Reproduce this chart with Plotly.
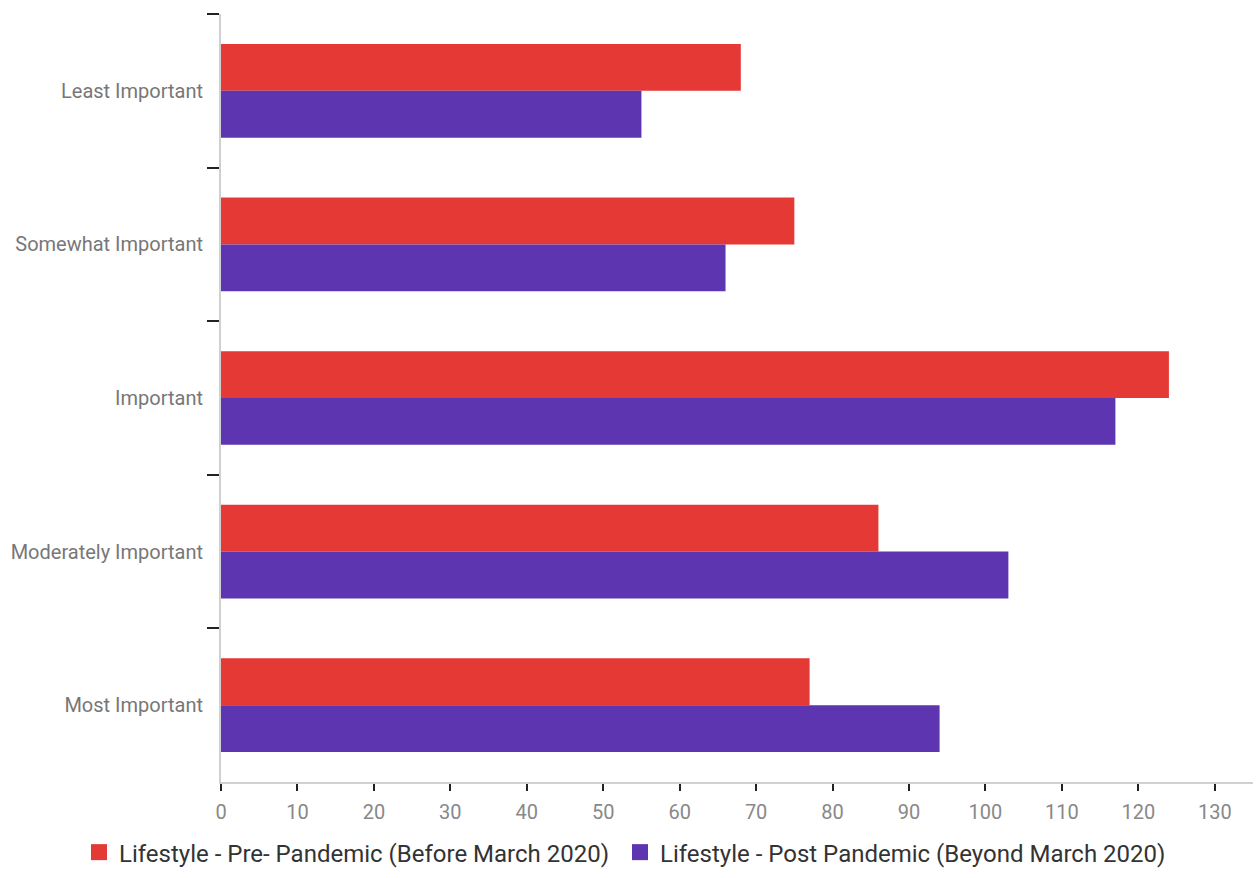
import plotly.graph_objects as go

categories = ["Least Important", "Somewhat Important", "Important",
              "Moderately Important", "Most Important"]
pre_pandemic = [68, 75, 124, 86, 77]
post_pandemic = [55, 66, 117, 103, 94]
series_names = ["Lifestyle - Pre- Pandemic (Before March 2020)",
                "Lifestyle - Post Pandemic (Beyond March 2020)"]
series_colors = ["#E53935", "#5E35B1"]
x_ticks = list(range(0, 140, 10))

fig = go.Figure()
for name, vals, color in zip(series_names, [pre_pandemic, post_pandemic], series_colors):
    fig.add_trace(go.Bar(y=categories, x=vals, orientation="h", name=name,
                         marker_color=color, marker_line_width=0,
                         showlegend=False))
# legend entries with larger square swatches, one legend box per series
for i, (name, color) in enumerate(zip(series_names, series_colors)):
    fig.add_trace(go.Scatter(x=[None], y=[None], mode="markers", name=name,
                             legend="legend" if i == 0 else "legend2",
                             marker=dict(symbol="square", size=21, color=color)))

legend_style = dict(orientation="h", xref="container", yref="container",
                    y=0.029, yanchor="middle", xanchor="left",
                    font=dict(size=24, color="#333333"),
                    itemwidth=30, bgcolor="rgba(0,0,0,0)")

fig.update_layout(
    width=1259, height=878,
    margin=dict(l=221, r=6, t=14, b=96, autoexpand=False),
    paper_bgcolor="white", plot_bgcolor="white",
    barmode="group", bargap=0.39, bargroupgap=0,
    font=dict(family="Roboto, Arial, sans-serif", size=20, color="#777777"),
    showlegend=True,
    legend=dict(x=79 / 1259, **legend_style),
    legend2=dict(x=620 / 1259, **legend_style),
    xaxis=dict(range=[0, 135], tickvals=x_ticks, showgrid=False,
               zeroline=False, showline=True, linecolor="#d0d0d0",
               linewidth=2, ticks="outside", ticklen=7, tickwidth=2,
               tickcolor="#222222", ticklabelstandoff=4,
               tickfont=dict(size=20, color="#888888")),
    yaxis=dict(categoryorder="array", categoryarray=categories,
               autorange="reversed", showgrid=False, zeroline=False,
               showline=True, linecolor="#d0d0d0", linewidth=2,
               ticks="outside", tickson="boundaries", ticklen=12,
               tickwidth=2, tickcolor="#222222", ticklabelstandoff=12,
               tickfont=dict(size=20, color="#777777")),
)

fig.write_html("out.html")
